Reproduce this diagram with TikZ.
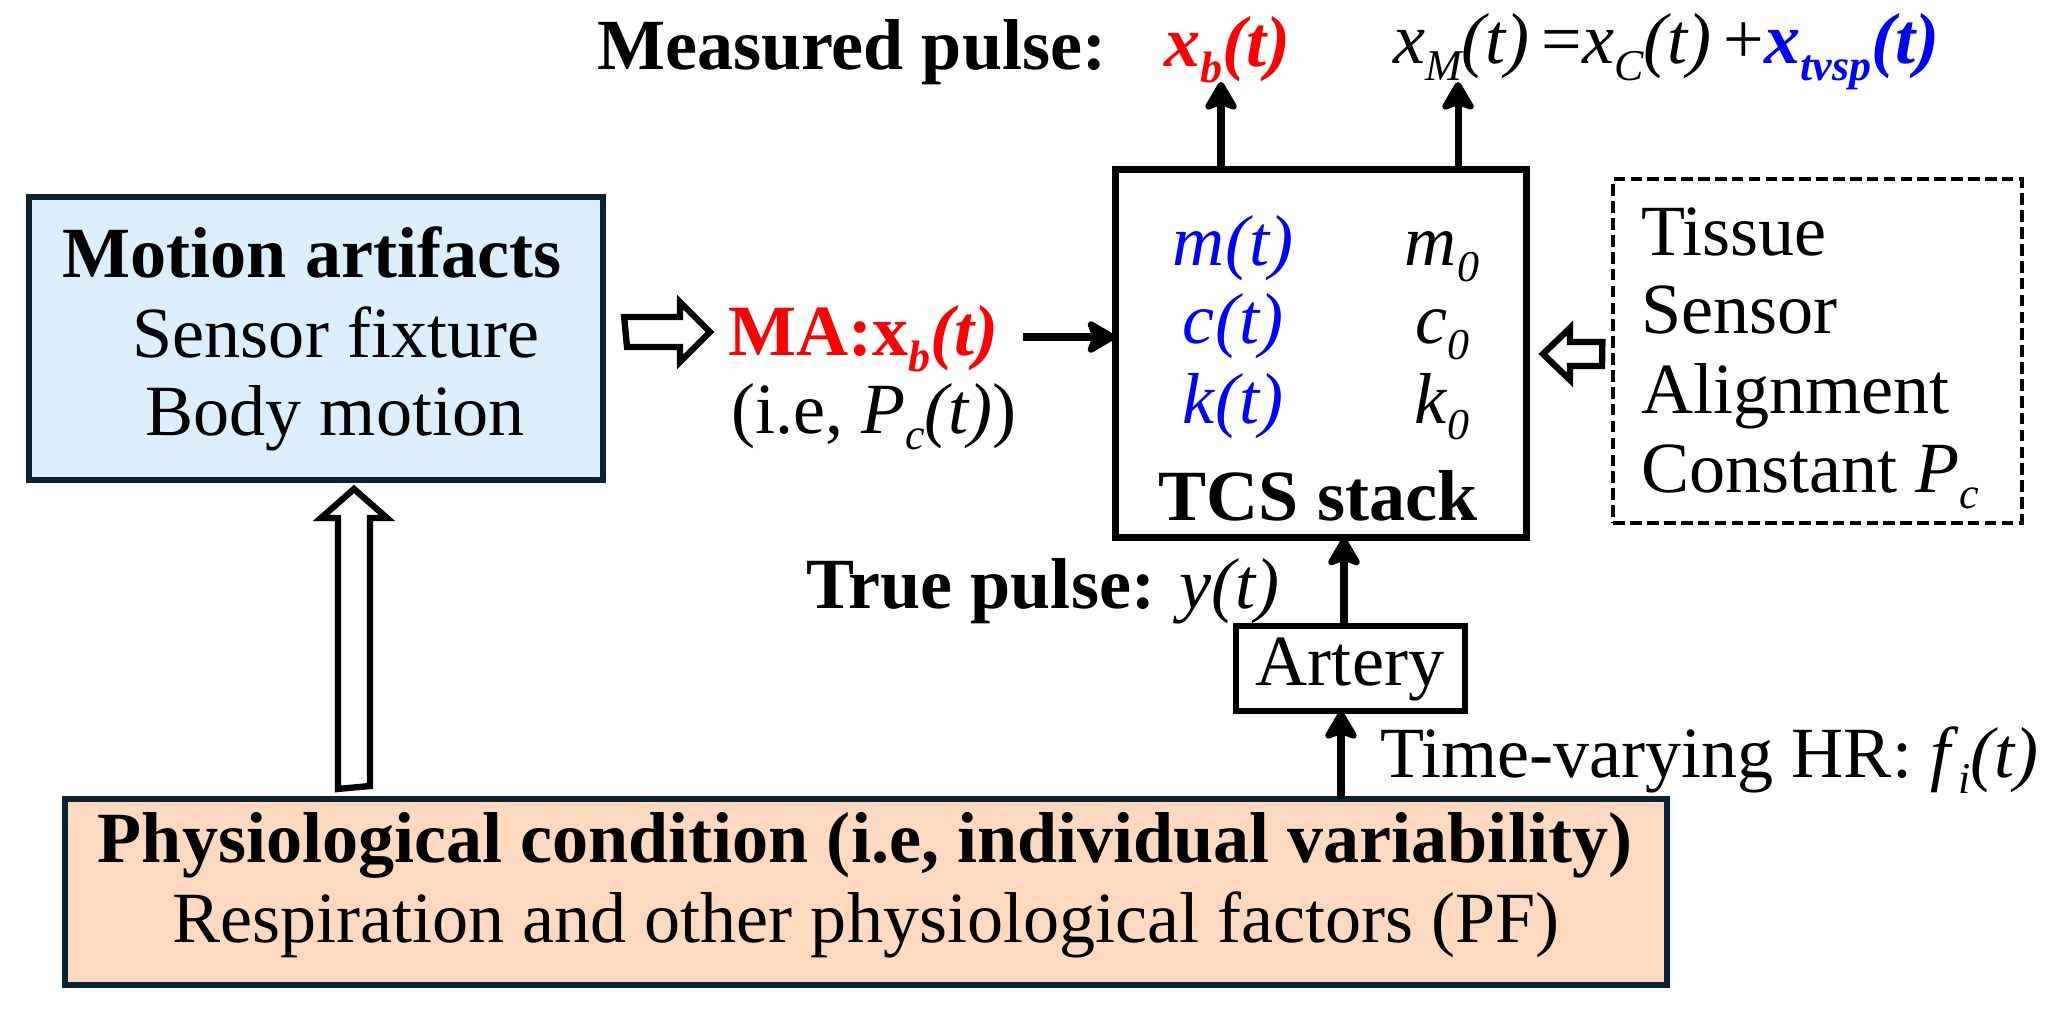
\documentclass[tikz,border=0pt]{standalone}
\usepackage{fontspec}
\setmainfont{Liberation Serif}
\usetikzlibrary{arrows.meta}
\definecolor{navy}{HTML}{0B2232}
\definecolor{lblue}{HTML}{DAEEFB}
\definecolor{peach}{HTML}{FCD9BF}
\newcommand{\sbs}[1]{\raisebox{-4.8pt}{\fontsize{12.5}{12.5}\selectfont #1}}
\begin{document}
\begin{tikzpicture}[x=0.01cm,y=-0.01cm,
  every node/.style={inner sep=0pt,outer sep=0pt,font=\fontsize{20.5}{24}\selectfont},
  boxa/.style={draw=navy,line width=1.7pt,fill=lblue},
  boxp/.style={draw=navy,line width=1.7pt,fill=peach},
  boxk/.style={draw=black,line width=2pt},
  boxd/.style={draw=black,line width=1.1pt,dash pattern=on 3.3pt off 1.5pt},
  arr/.style={line width=2pt,-{Stealth[length=9.5pt,width=11pt,inset=2pt,round]}},
  hollow/.style={draw=black,line width=1.8pt,fill=white,line join=miter}]
\useasboundingbox (0,0) rectangle (2048,1009);

% boxes
\node[boxa,minimum width=5.74cm,minimum height=2.83cm] (motion) at (316,338.5) {};
\node[boxk,minimum width=4.11cm,minimum height=3.68cm] (tcs) at (1321,353.5) {};
\node[boxd,minimum width=4.08cm,minimum height=3.43cm] (fact) at (1817.5,351) {};
\node[boxk,line width=1.7pt,minimum width=2.29cm,minimum height=0.85cm] (artery) at (1350.5,668.5) {};
\node[boxp,minimum width=16.02cm,minimum height=1.86cm] (physio) at (866,892) {};

% motion box text
\node[anchor=base] (mt1) at (312,277) {\bfseries Motion artifacts};
\node[anchor=base] (mt2) at (336,357) {Sensor fixture};
\node[anchor=base] (mt3) at (335,435) {Body motion};

% MA label
\node[anchor=base west,text=red] (ma) at (728,355) {\bfseries MA:x\sbs{\itshape b}\textit{(t)}};
\node[anchor=base west] (pc) at (731,433) {(i.e, \textit{P}\sbs{\itshape c}\textit{(t)})};

% TCS contents
\node[anchor=base,text=blue] (mtv) at (1233,265) {\textit{m(t)}};
\node[anchor=base,text=blue] (ctv) at (1233,343) {\textit{c(t)}};
\node[anchor=base,text=blue] (ktv) at (1233,423) {\textit{k(t)}};
\node[anchor=base] (m0) at (1442,265) {\textit{m}\sbs{\itshape 0}};
\node[anchor=base] (c0) at (1442,343) {\textit{c}\sbs{\itshape 0}};
\node[anchor=base] (k0) at (1442,423) {\textit{k}\sbs{\itshape 0}};
\node[anchor=base] (tcst) at (1318,520) {\bfseries TCS stack};

% top labels
\node[anchor=base west] (meas) at (597,69) {\bfseries Measured pulse:};
\node[anchor=base west,text=red] (xb) at (1164,66) {\bfseries\itshape x\sbs{b}(t)};
\node[anchor=base west] (xm) at (1393,64) {\textit{x}\sbs{\itshape M}\textit{(t)}\,=\textit{x}\sbs{\itshape C}\textit{(t)}\,+{\color{blue}\bfseries\itshape x\sbs{tvsp}(t)}};

% factors box text
\node[anchor=base west] (f1) at (1641,255) {Tissue};
\node[anchor=base west] (f2) at (1641,333) {Sensor};
\node[anchor=base west] (f3) at (1641,413) {Alignment};
\node[anchor=base west] (f4) at (1641,492) {Constant \textit{P}\sbs{\itshape c}};

% lower labels
\node[anchor=base west] (truep) at (806,608) {\bfseries True pulse: \mdseries\textit{y(t)}};
\node[anchor=base] (artt) at (1350,685) {Artery};
\node[anchor=base west] (hr) at (1380,777) {Time-varying HR: \textit{f}\sbs{\itshape i}\textit{(t)}};
\node[anchor=base] (ph1) at (865,862) {\bfseries Physiological condition (i.e, individual variability)};
\node[anchor=base] (ph2) at (866,942) {Respiration and other physiological factors (PF)};

% connectors
\coordinate (o1) at (1221,82);
\coordinate (o2) at (1458,82);
\coordinate (mas) at (1023,337);
\draw[arr] (tcs.north -| o1) -- (o1);
\draw[arr] (tcs.north -| o2) -- (o2);
\draw[arr] (mas) -- (tcs.west |- mas);
\draw[arr] (artery.north -| 1344,0) -- (tcs.south -| 1344,0);
\draw[arr] (physio.north -| 1341,0) -- (artery.south -| 1341,0);

% hollow block arrows
\draw[hollow] (motion.east |- 0,317) ++(21,0) -- (680,317) -- (680,302) -- (710,332) -- (680,362) -- (680,347) -- (627,347) -- cycle;
\draw[hollow] (fact.west |- 0,342) ++(-11,0) -- (1570,342) -- (1570,328) -- (1543,354) -- (1570,380) -- (1570,366) -- (1602,366) -- cycle;
\draw[hollow] (physio.north -| 338,0) ++(0,-10) -- (338,518) -- (321,518) -- (354,489) -- (387,518) -- (370,518) -- (370,786) -- cycle;
\end{tikzpicture}
\end{document}
